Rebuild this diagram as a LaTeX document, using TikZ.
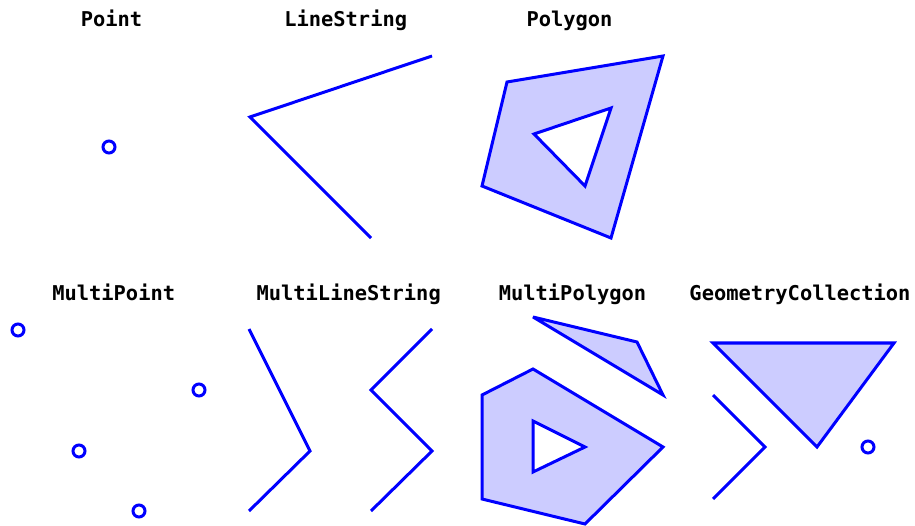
\documentclass[tikz,border=0pt]{standalone}
\usepackage{fontspec}
\setmonofont{DejaVu Sans Mono}
\definecolor{geoline}{RGB}{0,0,255}
\definecolor{geofill}{RGB}{204,204,255}
\begin{document}
\begin{tikzpicture}[x=1pt,y=-1pt,
  title/.style={anchor=base,inner sep=0pt,font=\ttfamily\bfseries\fontsize{20.4}{24}\selectfont},
  geo/.style={draw=geoline,line width=3pt,line join=miter,miter limit=4},
  area/.style={geo,fill=geofill,even odd rule},
  pt/.style={draw=geoline,line width=3pt}]
\useasboundingbox (0,0) rectangle (915,526);
% titles
\node[title] (t1) at (111.5,27) {Point};
\node[title] (t2) at (345.7,27) {LineString};
\node[title] (t3) at (569.5,27) {Polygon};
\node[title] (t4) at (113.7,301) {MultiPoint};
\node[title] (t5) at (348.7,301) {MultiLineString};
\node[title] (t6) at (572.5,301) {MultiPolygon};
\node[title] (t7) at (800,301) {GeometryCollection};
% Point
\draw[pt] (109,147) circle (6);
% LineString
\draw[geo] (432,56) -- (250,117) -- (371,238);
% Polygon with hole
\draw[area] (663,56) -- (507,82) -- (482,186) -- (611,238) -- cycle
  (611,108) -- (534,134) -- (585,186) -- cycle;
% MultiPoint
\draw[pt] (18,330) circle (6);
\draw[pt] (199,390) circle (6);
\draw[pt] (79,451) circle (6);
\draw[pt] (139,511) circle (6);
% MultiLineString
\draw[geo] (249,329) -- (310,451) -- (249,511);
\draw[geo] (432,329) -- (371,390) -- (432,451) -- (371,511);
% MultiPolygon
\draw[area] (533,317) -- (637,342) -- (663,395) -- cycle;
\draw[area] (533,369) -- (482,395) -- (482,499) -- (585,524) -- (663,447) -- cycle
  (533,421) -- (585,447) -- (533,472) -- cycle;
% GeometryCollection
\draw[area] (713,343) -- (894,343) -- (817,447) -- cycle;
\draw[geo] (713,395) -- (765,447) -- (713,499);
\draw[pt] (868,447) circle (6);
\end{tikzpicture}
\end{document}
